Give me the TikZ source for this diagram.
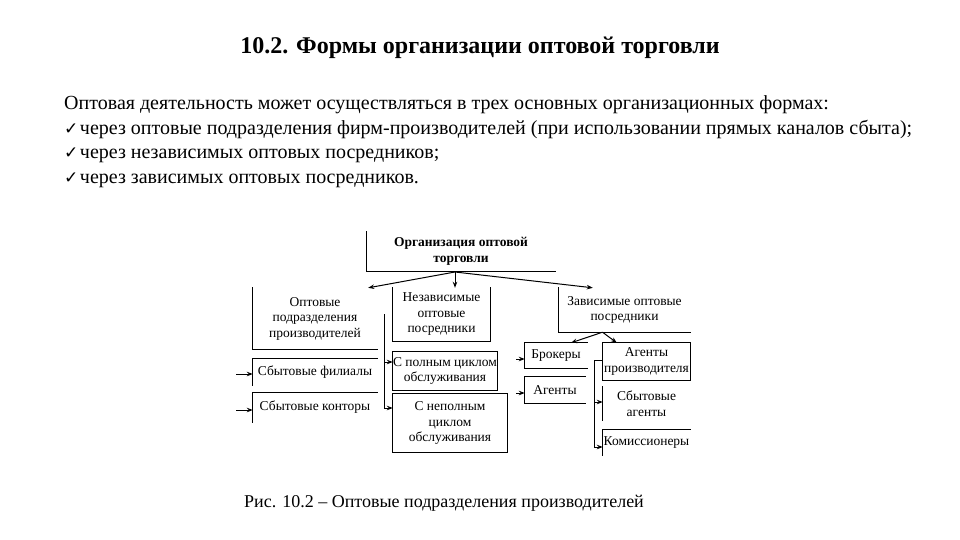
\documentclass[tikz,border=0pt]{standalone}
\usepackage{fontspec}
\setmainfont{Liberation Serif}
\newfontfamily\checkfont{DejaVu Sans}
\usetikzlibrary{arrows.meta}
\newcommand{\ckm}{{\checkfont\fontsize{17}{17}\selectfont ✓}\hspace{1.5pt}}
\tikzset{
  box/.style={rectangle, inner sep=0pt, align=center, font=\fontsize{13.5}{15.5}\selectfont},
  bline/.style={line width=1pt, line cap=rect},
  arr/.style={line width=1pt, -{Stealth[length=6pt,width=4.5pt]}},
  bodytext/.style={anchor=base west, inner sep=0pt, font=\fontsize{20}{22}\selectfont},
}
\begin{document}
\begin{tikzpicture}[x=1pt,y=-1pt]
\useasboundingbox (0,0) rectangle (960,540);
\fill[white] (0,0) rectangle (960,540);

% title and text
\node[anchor=base, inner sep=0pt, font=\fontsize{24}{26}\bfseries] (title) at (480,54) {10.2. Формы организации оптовой торговли};
\node[bodytext] (l1) at (64,110) {Оптовая деятельность может осуществляться в трех основных организационных формах:};
\node[bodytext] (l2) at (64,135) {\ckm через оптовые подразделения фирм-производителей (при использовании прямых каналов сбыта);};
\node[bodytext] (l3) at (64,159) {\ckm через независимых оптовых посредников;};
\node[bodytext] (l4) at (64,183) {\ckm через зависимых оптовых посредников.};

% boxes
\node[box, minimum width=188, minimum height=39, font=\fontsize{13.5}{15.5}\bfseries] (top) at (461,251.5) {Организация оптовой\\торговли};
\node[box, minimum width=124, minimum height=61] (opt) at (315,318.5) {Оптовые\\подразделения\\производителей};
\node[box, minimum width=97, minimum height=53] (ind) at (441.5,314.5) {Независимые\\оптовые\\посредники};
\node[box, minimum width=131, minimum height=44] (dep) at (624.5,310) {Зависимые оптовые\\посредники};
\node[box, minimum width=124, minimum height=26] (sf) at (315,372) {Сбытовые филиалы};
\node[box, minimum width=124, minimum height=29] (sk) at (315,407.5) {Сбытовые конторы};
\node[box, minimum width=104, minimum height=38] (fs) at (445,371) {С полным циклом\\обслуживания};
\node[box, minimum width=114, minimum height=58] (ns) at (450,423) {С неполным\\циклом\\обслуживания};
\node[box, minimum width=62, minimum height=25] (brok) at (556,355.5) {Брокеры};
\node[box, minimum width=60, minimum height=26] (ag) at (555,390) {Агенты};
\node[box, minimum width=87, minimum height=37] (agp) at (646.5,361.5) {Агенты\\производителя};
\node[box, minimum width=87, minimum height=33] (sa) at (646.5,403.5) {Сбытовые\\агенты};
\node[box, minimum width=87, minimum height=25] (kom) at (646.5,442.5) {Комиссионеры};

% borders
\draw[bline] (top.north west) |- (top.south east);
\draw[bline] (opt.north west) |- (opt.south east);
\draw[bline] (ind.north west) |- (ind.south east) -- (ind.north east);
\draw[bline] (dep.north west) |- (dep.south east);
\draw[bline] (sf.north east) -| (sf.south west);
\draw[bline] (sk.north east) -| (sk.south west);
\draw[bline] (fs.north west) rectangle (fs.south east);
\draw[bline] (ns.north west) rectangle (ns.south east);
\draw[bline] (brok.north east) -- (brok.north west) -- (brok.south west) -- (brok.south east);
\draw[bline] (ag.north east) -- (ag.north west) -- (ag.south west) -- (ag.south east);
\draw[bline] (agp.north west) rectangle (agp.south east);
\draw[bline] (sa.north west) -- (sa.south west);
\draw[bline] (kom.north east) -| (kom.south west);

% connectors from top
\coordinate (fork) at (455,272);
\draw[arr] (fork) -- ([xshift=-9]opt.north east);
\draw[arr] (top.south -| fork) -- (fork |- ind.north);
\draw[arr] (fork) -- ([xshift=34]dep.north west);

% inputs to sf, sk
\coordinate (insf) at (236,374);
\coordinate (insk) at (236,410);
\draw[arr] (insf) -- (insf -| sf.west);
\draw[arr] (insk) -- (insk -| sk.west);

% bracket from independent
\coordinate (b1) at (384,314);
\draw[arr] (b1) |- ([yshift=9pt]fs.west);
\draw[arr] (b1) |- ([yshift=15pt]ns.west);

% from dependent
\coordinate (fork2) at ([xshift=-22]dep.south);
\draw[arr] (fork2) -- ([xshift=15]brok.north);
\draw[arr] (fork2) -- ([xshift=14]agp.north west);

% inputs to brokers, agents
\coordinate (inbr) at (516,359);
\coordinate (inag) at (516,393);
\draw[arr] (inbr) -- (inbr -| brok.west);
\draw[arr] (inag) -- (inag -| ag.west);

% bracket from agents of producer
\coordinate (b2) at ([yshift=1.5pt]agp.west);
\draw[bline] (b2) -- ++(-8,0) coordinate (b2l);
\draw[arr] (b2l) |- ([yshift=1.5pt]sa.west);
\draw[arr] (b2l) |- ([yshift=-4.5pt]kom.west);

% caption
\node[anchor=base west, inner sep=0pt, font=\fontsize{18}{20}\selectfont] (cap) at (244,507) {Рис. 10.2 – Оптовые подразделения производителей};
\end{tikzpicture}
\end{document}
